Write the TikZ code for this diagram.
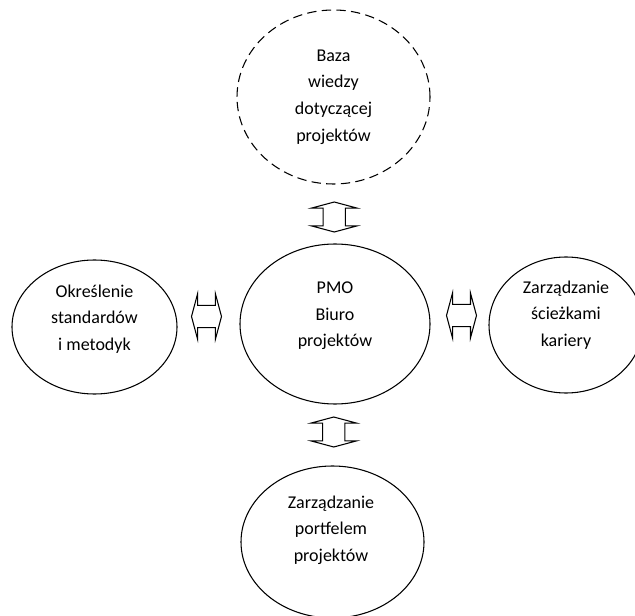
\documentclass[tikz,border=0pt]{standalone}
\usepackage{fontspec}
\setmainfont{Carlito}
\usetikzlibrary{shapes.geometric,shapes.arrows,calc}

\begin{document}
\begin{tikzpicture}[x=0.75pt, y=-0.75pt, line width=0.8pt,
        owal/.style 2 args={draw, ellipse, inner sep=0pt,
            minimum width=#1*0.75pt, minimum height=#2*0.75pt},
        tekst/.style={align=center, font=\fontsize{13.5}{19.9}\selectfont},
        strzalka/.style={draw, double arrow, inner xsep=0pt, inner ysep=7.9pt,
            minimum height=22.5pt, double arrow head extend=8.6pt,
            double arrow tip angle=150}]
    \clip (0,0) rectangle (635,616);

    % ellipses
    \node[owal={193}{174}, dash pattern=on 7pt off 4pt] (baza) at (333.5, 97) {};
    \node[owal={190}{160}] (pmo) at (335, 324) {};
    \node[owal={165}{134}] (metody) at (94.5, 327) {};
    \node[owal={154}{136}] (kariera) at (566, 325) {};
    \node[owal={183}{152}] (portfel) at (332.5, 542) {};

    % texts
    \node[tekst] at (baza) {Baza\\wiedzy\\dotyczącej\\projektów};
    \node[tekst] at ($(pmo)+(0,-8)$) {PMO\\Biuro\\projektów};
    \node[tekst] at ($(metody)+(0,-8)$) {Określenie\\standardów\\i metodyk};
    \node[tekst] at ($(kariera)+(0,-10)$) {Zarządzanie\\ścieżkami\\kariery};
    \node[tekst] at ($(portfel)+(-1.5,-12)$) {Zarządzanie\\portfelem\\projektów};

    % arrows between nodes
    \node[strzalka, rotate=90] (s1) at ($(baza.south)!0.5!(pmo.north)+(0,3)$) {};
    \node[strzalka, rotate=90] (s2) at ($(pmo.south)!0.5!(portfel.north)+(0,-3)$) {};
    \node[strzalka] (s3) at ($(metody.east)!0.5!(pmo.west)+(-2,-9)$) {};
    \node[strzalka] (s4) at ($(pmo.east)!0.5!(kariera.west)+(2,-9)$) {};
\end{tikzpicture}
\end{document}
